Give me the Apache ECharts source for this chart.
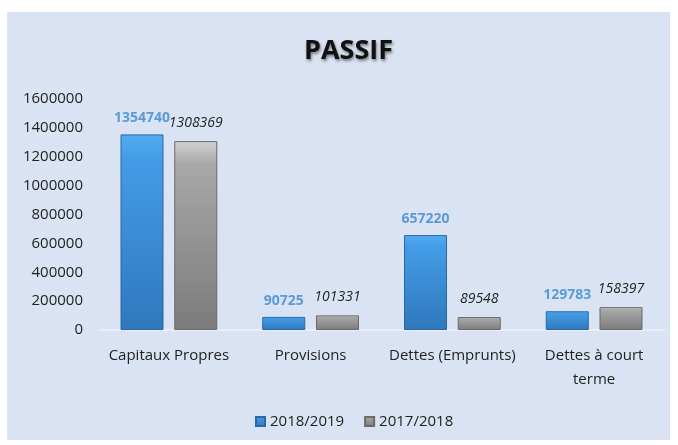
<!DOCTYPE html>
<html>
<head>
<meta charset="utf-8">
<script src="https://cdn.jsdelivr.net/npm/echarts@6/dist/echarts.min.js"></script>
<style>
  body { margin: 0; background: #fff; }
  #chartDom {
    position: absolute;
    left: 7px;
    top: 12px;
    width: 663px;
    height: 428px;
  }
</style>
</head>
<body>
<div id="chartDom"></div>
<script>
const categories = ['Capitaux Propres', 'Provisions', 'Dettes (Emprunts)', 'Dettes à court terme'];
const seriesNames = ['2018/2019', '2017/2018'];
const values2019 = [1354740, 90725, 657220, 129783];
const values2018 = [1308369, 101331, 89548, 158397];

const font = 'Open Sans';

const blueFill = new echarts.graphic.LinearGradient(0, 0, 0, 1, [
  { offset: 0, color: '#52acf2' },
  { offset: 0.12, color: '#449ce6' },
  { offset: 1, color: '#2f78bd' }
]);
const grayFill = new echarts.graphic.LinearGradient(0, 0, 0, 1, [
  { offset: 0, color: '#d2d2d2' },
  { offset: 0.12, color: '#a8a8a8' },
  { offset: 1, color: '#7b7b7b' }
]);

const option = {
  backgroundColor: '#dae3f3',
  title: {
    text: 'PASSIF',
    left: 292,
    top: 21,
    textStyle: {
      fontFamily: font,
      fontSize: 27,
      fontWeight: 'bold',
      color: '#111',
      textShadowColor: 'rgba(0,0,0,0.45)',
      textShadowBlur: 3,
      textShadowOffsetX: 1,
      textShadowOffsetY: 2
    }
  },
  legend: {
    bottom: 6,
    left: 243,
    itemWidth: 9,
    itemHeight: 9,
    itemGap: 20,
    icon: 'rect',
    textStyle: { fontFamily: font, fontSize: 15, color: '#222' },
    data: seriesNames
  },
  grid: {
    left: 91,
    right: 5,
    top: 87,
    bottom: 110
  },
  xAxis: {
    type: 'category',
    data: categories,
    axisTick: { show: false },
    axisLine: { lineStyle: { color: '#eef1f7', width: 1.5 } },
    axisLabel: {
      fontFamily: font,
      fontSize: 15,
      color: '#222',
      margin: 14,
      lineHeight: 24,
      interval: 0,
      formatter: function (v) {
        return v === 'Dettes à court terme' ? 'Dettes à court\nterme' : v;
      }
    }
  },
  yAxis: {
    type: 'value',
    min: 0,
    max: 1600000,
    interval: 200000,
    splitLine: { show: false },
    axisLine: { show: false },
    axisTick: { show: false },
    axisLabel: {
      fontFamily: font,
      fontSize: 15,
      color: '#222',
      margin: 15,
      formatter: function (v) { return String(v); }
    }
  },
  series: [
    {
      name: seriesNames[0],
      type: 'bar',
      data: values2019,
      barWidth: 43,
      barGap: '25%',
      itemStyle: { color: blueFill, borderColor: '#2b67a3', borderWidth: 1 },
      label: {
        show: true,
        position: 'top',
        distance: 9,
        fontFamily: font,
        fontSize: 14,
        fontWeight: 'bold',
        color: '#5b9bd5'
      }
    },
    {
      name: seriesNames[1],
      type: 'bar',
      data: values2018,
      barWidth: 43,
      itemStyle: { color: grayFill, borderColor: '#6a6a6a', borderWidth: 1 },
      label: {
        show: true,
        position: 'top',
        distance: 11,
        fontFamily: font,
        fontSize: 14,
        fontStyle: 'italic',
        color: '#222'
      }
    }
  ]
};

const myChart = echarts.init(document.getElementById('chartDom'));
myChart.setOption(option);
</script>
</body>
</html>
